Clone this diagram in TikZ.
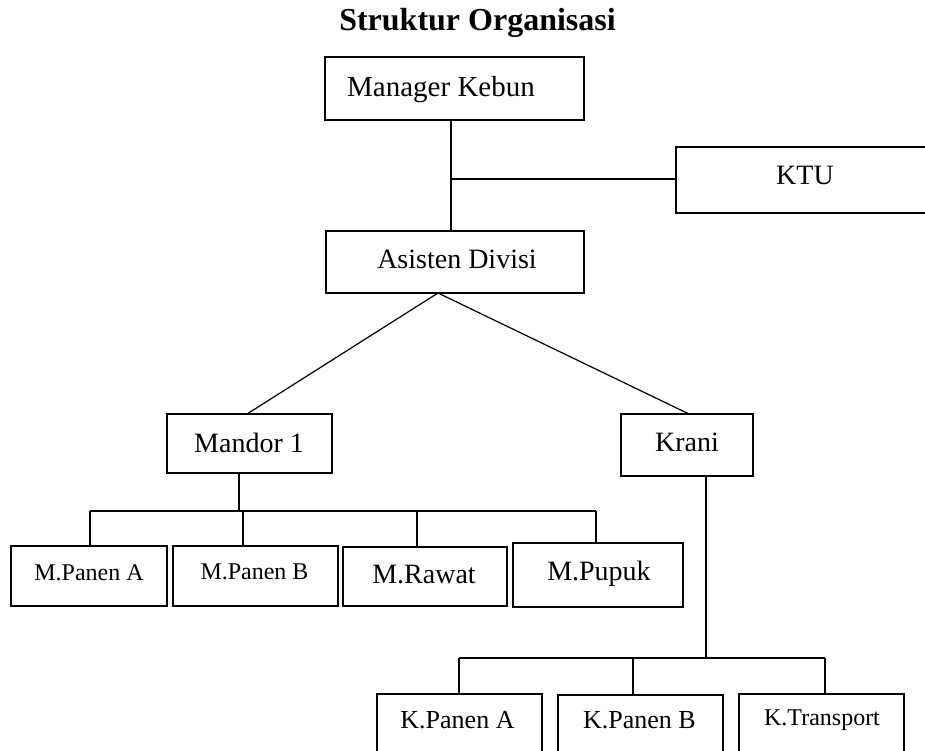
\documentclass[tikz,border=0pt]{standalone}
\usepackage{fontspec}
\setmainfont{Liberation Serif}
\begin{document}
\begin{tikzpicture}[x=1pt,y=-1pt,
  box/.style={draw, line width=1.7pt, rectangle, inner sep=0pt},
  conn/.style={line width=1.2pt},
  txt/.style={inner sep=0pt, anchor=base},
  fa/.style={font=\fontsize{29}{32}\selectfont},
  fb/.style={font=\fontsize{28}{32}\selectfont},
  fc/.style={font=\fontsize{24}{28}\selectfont},
  fd/.style={font=\fontsize{26}{30}\selectfont},
  ftitle/.style={font=\fontsize{32}{36}\selectfont\bfseries}]
\useasboundingbox (0,0) rectangle (925,751);
\clip (0,0) rectangle (925,751);

% title
\node[txt, ftitle] (title) at (477.5,31) {Struktur Organisasi};

% boxes
\node[box, minimum width=259pt, minimum height=63pt] (mk)  at (454.5,88.5) {};
\node[box, minimum width=259pt, minimum height=66pt] (ktu) at (805.5,180) {};
\node[box, minimum width=258pt, minimum height=62pt] (ad)  at (455,262) {};
\node[box, minimum width=165pt, minimum height=59pt] (m1)  at (249.5,443.5) {};
\node[box, minimum width=132pt, minimum height=62pt] (kr)  at (687,445) {};
\node[box, minimum width=156pt, minimum height=60pt] (mpa) at (89,576) {};
\node[box, minimum width=165pt, minimum height=60pt] (mpb) at (255.5,576) {};
\node[box, minimum width=164pt, minimum height=59pt] (mr)  at (425,576.5) {};
\node[box, minimum width=170pt, minimum height=64pt] (mp)  at (598,575) {};
\node[box, minimum width=165pt, minimum height=86pt] (kpa) at (459.5,737) {};
\node[box, minimum width=165pt, minimum height=85pt] (kpb) at (640.5,737.5) {};
\node[box, minimum width=165pt, minimum height=86pt] (kt)  at (821.5,737) {};

% labels
\node[txt, fa] (mkt)  at (441,97)    {Manager Kebun};
\node[txt, fb] (ktut) at (805,185)   {KTU};
\node[txt, fb] (adt)  at (457,268)   {Asisten Divisi};
\node[txt, fb] (m1t)  at (249,452)   {Mandor 1};
\node[txt, fb] (krt)  at (687,451)   {Krani};
\node[txt, fc] (mpat) at (89,580)    {M.Panen A};
\node[txt, fc] (mpbt) at (254.5,579) {M.Panen B};
\node[txt, fb] (mrt)  at (424,583)   {M.Rawat};
\node[txt, fb] (mpt)  at (599,580)   {M.Pupuk};
\node[txt, fd] (kpat) at (457.5,728) {K.Panen A};
\node[txt, fd] (kpbt) at (639.5,728) {K.Panen B};
\node[txt, fc] (ktt)  at (822,725)   {K.Transport};

% junction coordinates
\coordinate (j1) at (451,179);
\coordinate (ap) at (438,293);
\coordinate (am) at (247,414);
\coordinate (ak) at (689,414);
\coordinate (b1) at (239,511);
\coordinate (d1) at (90,511);
\coordinate (d2) at (243,511);
\coordinate (d3) at (417,511);
\coordinate (d4) at (596,511);
\coordinate (b2) at (706,658);
\coordinate (e1) at (459,658);
\coordinate (e2) at (633,658);
\coordinate (e3) at (825,658);

% connectors
\draw[conn] (mk.south -| j1) -- (ad.north -| j1);
\draw[conn] (j1) -- (ktu.west |- j1);
\draw[conn] (ap) -- (am);
\draw[conn] (ap) -- (ak);
\draw[conn] (m1.south -| b1) -- (b1);
\draw[conn] (d1) -- (d4);
\draw[conn] (d1) -- (mpa.north -| d1);
\draw[conn] (d2) -- (mpb.north -| d2);
\draw[conn] (d3) -- (mr.north -| d3);
\draw[conn] (d4) -- (mp.north -| d4);
\draw[conn] (kr.south -| b2) -- (b2);
\draw[conn] (e1) -- (e3);
\draw[conn] (e1) -- (kpa.north -| e1);
\draw[conn] (e2) -- (kpb.north -| e2);
\draw[conn] (e3) -- (kt.north -| e3);
\end{tikzpicture}
\end{document}
